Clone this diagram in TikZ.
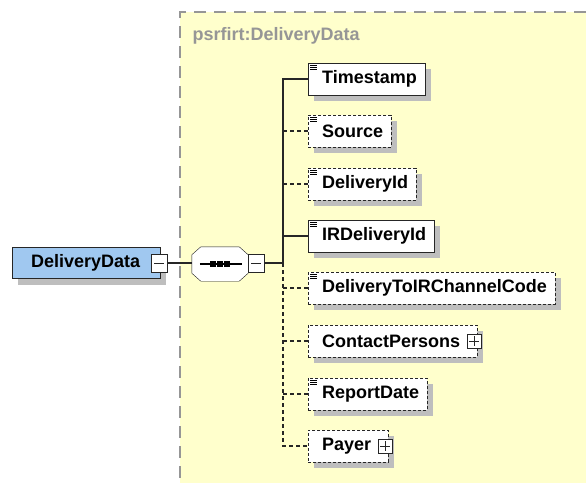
\documentclass[tikz,border=0pt]{standalone}
\usepackage{fontspec}
\setmainfont{Liberation Sans}
\usepackage{xcolor}
\usepackage{tikz}
\usetikzlibrary{shadows}
\definecolor{xsdyellow}{RGB}{255,255,204}
\definecolor{xsdblue}{RGB}{160,200,240}
\definecolor{xsdshadow}{RGB}{190,190,190}
\definecolor{xsdgray}{RGB}{150,150,150}

\begin{document}
\begin{tikzpicture}[x=1pt,y=-1pt,font=\fontsize{18}{20}\selectfont\bfseries]
\tikzstyle{boxshadow}=[drop shadow={shadow xshift=6pt,shadow yshift=-6pt,fill=xsdshadow,opacity=1}]
\tikzstyle{elem}=[rectangle,draw=black!85,fill=white,boxshadow,minimum height=32pt,inner ysep=0pt,inner xsep=8pt,anchor=west,execute at begin node={\hspace*{6pt}}]
\tikzstyle{optional}=[elem,dash pattern=on 3pt off 2pt]
\tikzstyle{expandable}=[execute at end node={\hspace*{9pt}}]
\tikzstyle{togglebox}=[rectangle,draw=black!85,fill=white,inner sep=0pt]
\tikzstyle{minusbox}=[togglebox,minimum width=16pt,minimum height=18pt,path picture={\draw ([xshift=3pt]path picture bounding box.west) -- ([xshift=-3pt]path picture bounding box.east);}]
\tikzstyle{plusbox}=[togglebox,minimum width=14pt,minimum height=14pt,path picture={\draw ([xshift=2pt]path picture bounding box.west) -- ([xshift=-2pt]path picture bounding box.east) ([yshift=-2pt]path picture bounding box.north) -- ([yshift=2pt]path picture bounding box.south);}]
\tikzstyle{link}=[line width=1.1pt,black!85]
\tikzstyle{optlink}=[link,dash pattern=on 4pt off 3pt]
\useasboundingbox (0,0) rectangle (586,483);
\fill[xsdyellow] (180,12) rectangle (586,483);
\draw[xsdgray,line width=1.3pt,dash pattern=on 12pt off 8pt] (586,12) -- (180,12) -- (180,483);
\node[anchor=base west,text=xsdgray] (type) at (189,40) {psrfirt:DeliveryData};

\node[elem,fill=xsdblue,minimum height=31pt,inner xsep=13pt,execute at begin node={},execute at end node={\hspace*{7pt}}] (dd) at (12,263) {DeliveryData};
\node[minusbox] (ddminus) at ([xshift=-1pt]dd.east) {};
\node[minimum width=56pt,minimum height=34pt,inner sep=0pt] (seq) at (220,264) {};
\fill[xsdshadow,shift={(4,4)}] ([xshift=9pt]seq.north west) -- ([xshift=-9pt]seq.north east) -- ([yshift=-8pt]seq.north east) -- ([yshift=8pt]seq.south east) -- ([xshift=-9pt]seq.south east) -- ([xshift=9pt]seq.south west) -- ([yshift=8pt]seq.south west) -- ([yshift=-8pt]seq.north west) -- cycle;
\draw[black!85,fill=white] ([xshift=9pt]seq.north west) -- ([xshift=-9pt]seq.north east) -- ([yshift=-8pt]seq.north east) -- ([yshift=8pt]seq.south east) -- ([xshift=-9pt]seq.south east) -- ([xshift=9pt]seq.south west) -- ([yshift=8pt]seq.south west) -- ([yshift=-8pt]seq.north west) -- cycle;
\node[minusbox,anchor=west] (seqminus) at ([yshift=1pt]seq.east) {};
\draw[line width=1.2pt] ([xshift=8pt]seq.west) -- ([xshift=-6pt]seq.east);
\foreach \dx in {-7pt,0pt,7pt}
  \fill ([xshift=\dx]seq.center) +(-3,-3) rectangle +(3,3);

\node[elem] (ts) at (308,79) {Timestamp};
\node[optional] (src) at (308,131) {Source};
\node[optional] (did) at (308,184) {DeliveryId};
\node[elem] (irid) at (308,236) {IRDeliveryId};
\node[optional] (chan) at (308,288) {DeliveryToIRChannelCode};
\node[optional,expandable] (cp) at (308,341) {ContactPersons};
\node[optional] (rdate) at (308,394) {ReportDate};
\node[optional,expandable] (payer) at (308,446) {Payer};
\node[plusbox] (cpplus) at ([xshift=-3pt]cp.east) {};
\node[plusbox] (payerplus) at ([xshift=-3pt]payer.east) {};
\foreach \n in {ts,src,did,irid,chan,rdate}
  \foreach \dy in {3pt,5pt,7pt}
    \draw[line width=0.7pt] ([shift={(2pt,-\dy)}]\n.north west) -- ++(7,0);

\coordinate (j) at (283,263);
\draw[link] (ddminus.east) -- (seq.west |- j);
\draw[link] (seqminus.east) -- (j);
\draw[link] (j) -- (j |- ts.west) -- (ts.west);
\draw[link] (j |- irid.west) -- (irid.west);
\draw[optlink] (j) -- (j |- payer.west) -- (payer.west);
\foreach \n in {src,did,chan,cp,rdate}
  \draw[optlink] (j |- \n.west) -- (\n.west);
\end{tikzpicture}
\end{document}
